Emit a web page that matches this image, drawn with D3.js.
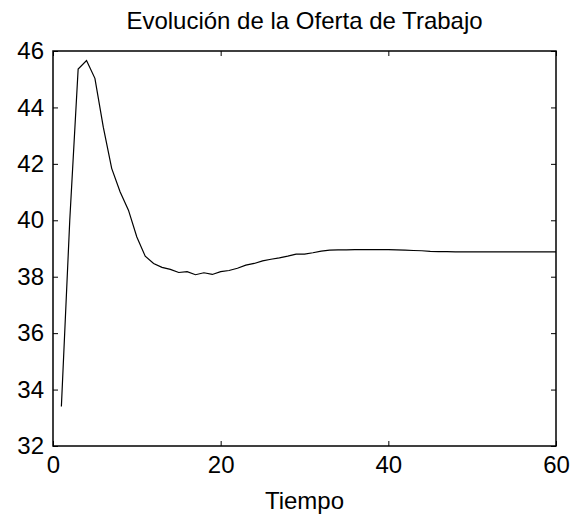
<!DOCTYPE html>
<html>
<head>
<meta charset="utf-8">
<script src="https://cdn.jsdelivr.net/npm/d3@7"></script>
<style>
  body { margin: 0; background: #fff; }
  text { font-family: "Liberation Sans", Arial, sans-serif; fill: #000; }
</style>
</head>
<body>
<script>
// Oferta de trabajo por periodo
const tiempo = d3.range(1, 61);
const oferta = [
  33.40, 40.00, 45.36, 45.66, 45.03, 43.30, 41.84, 41.01, 40.36, 39.41,
  38.73, 38.47, 38.33, 38.26, 38.15, 38.18, 38.07, 38.14, 38.08, 38.18,
  38.22, 38.30, 38.41, 38.47, 38.56, 38.62, 38.67, 38.73, 38.80, 38.80,
  38.85, 38.91, 38.94, 38.95, 38.95, 38.96, 38.96, 38.96, 38.96, 38.96,
  38.95, 38.94, 38.93, 38.92, 38.90, 38.89, 38.89, 38.88, 38.88, 38.88,
  38.88, 38.88, 38.88, 38.88, 38.88, 38.88, 38.88, 38.88, 38.88, 38.88
];
const xTicks = [0, 20, 40, 60];
const yTicks = [32, 34, 36, 38, 40, 42, 44, 46];

const width = 585, height = 521;
const margin = {top: 51, right: 29, bottom: 75, left: 53};
const w = width - margin.left - margin.right;
const h = height - margin.top - margin.bottom;
const tick = 5;

const svg = d3.select("body").append("svg")
  .attr("width", width)
  .attr("height", height);

const g = svg.append("g")
  .attr("transform", `translate(${margin.left}, ${margin.top})`);

const xscale = d3.scaleLinear().domain([0, 60]).range([0, w]);
const yscale = d3.scaleLinear().domain([32, 46]).range([h, 0]);

// ejes con marcas hacia dentro, estilo caja
const xaxis = d3.axisBottom(xscale).tickValues(xTicks).tickSizeInner(-tick).tickSizeOuter(0).tickPadding(10);
const yaxis = d3.axisLeft(yscale).tickValues(yTicks).tickSizeInner(-tick).tickSizeOuter(0).tickPadding(9);
const xtop = d3.axisTop(xscale).tickValues(xTicks).tickSizeInner(-tick).tickSizeOuter(0).tickFormat("");
const yright = d3.axisRight(yscale).tickValues(yTicks).tickSizeInner(-tick).tickSizeOuter(0).tickFormat("");

g.append("g").attr("transform", `translate(0, ${h})`).call(xaxis);
g.append("g").call(yaxis);
g.append("g").call(xtop);
g.append("g").attr("transform", `translate(${w}, 0)`).call(yright);

g.selectAll(".domain").remove();
g.selectAll(".tick line").attr("stroke", "#000").attr("stroke-width", 1);
g.selectAll(".tick text")
  .style("font-family", '"Liberation Sans", Arial, sans-serif')
  .style("font-size", "24px")
  .attr("fill", "#000");

g.append("rect")
  .attr("width", w)
  .attr("height", h)
  .attr("fill", "none")
  .attr("stroke", "#000")
  .attr("stroke-width", 1.5);

const line = d3.line()
  .x((d, i) => xscale(tiempo[i]))
  .y(d => yscale(d));

g.append("path")
  .datum(oferta)
  .attr("d", line)
  .attr("fill", "none")
  .attr("stroke", "#000")
  .attr("stroke-width", 1.2);

svg.append("text")
  .attr("x", margin.left + w / 2)
  .attr("y", 29)
  .attr("text-anchor", "middle")
  .style("font-size", "24px")
  .text("Evolución de la Oferta de Trabajo");

svg.append("text")
  .attr("x", margin.left + w / 2)
  .attr("y", 509)
  .attr("text-anchor", "middle")
  .style("font-size", "24px")
  .text("Tiempo");
</script>
</body>
</html>
